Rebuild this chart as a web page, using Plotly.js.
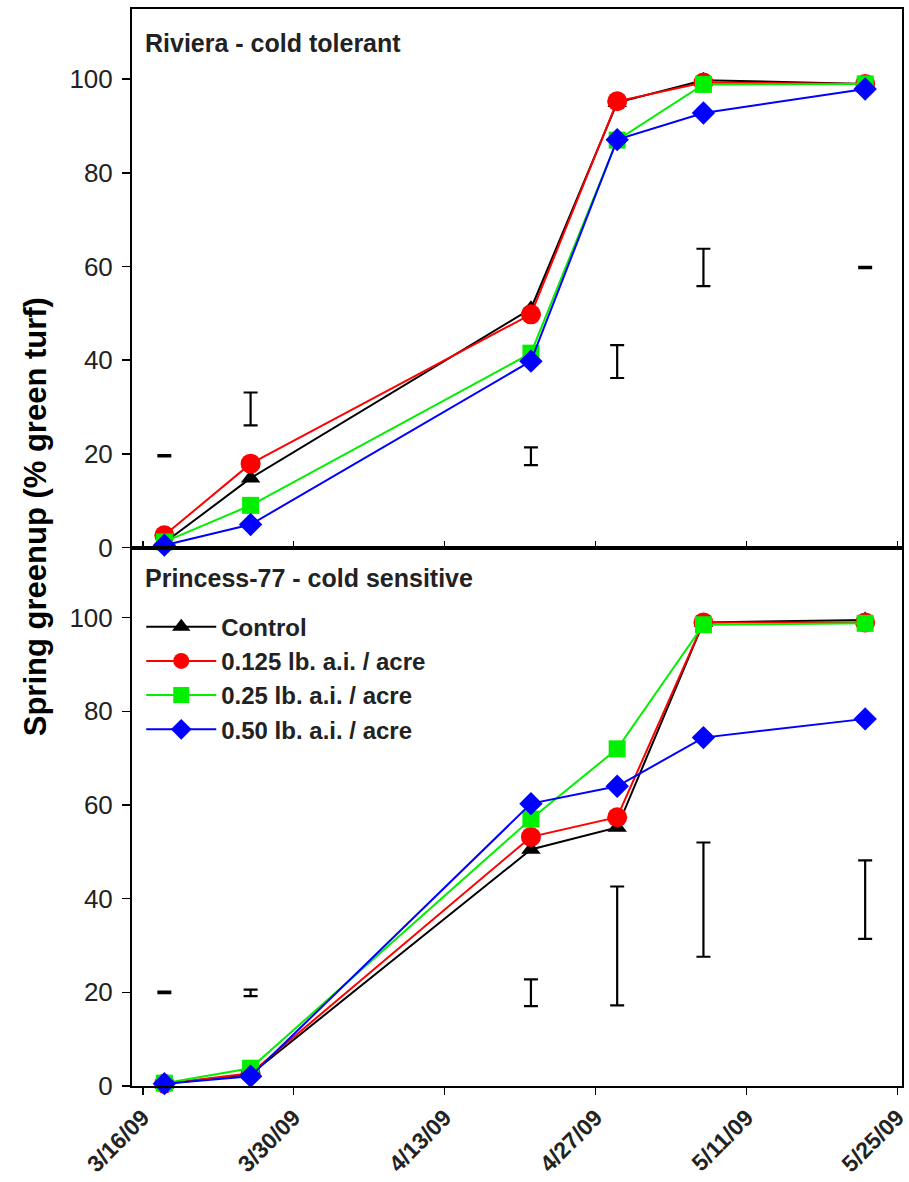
<!DOCTYPE html>
<html>
<head>
<meta charset="utf-8">
<script src="https://cdn.plot.ly/plotly-3.0.1.min.js"></script>
<style>html,body{margin:0;padding:0;background:#fff}#chart{width:909px;height:1182px}</style>
</head>
<body>
<div id="chart"></div>
<script>
// ---- data ----
const dates = ['2009-03-18','2009-03-26','2009-04-21','2009-04-29','2009-05-07','2009-05-22'];
const seriesNames = ['Control','0.125 lb. a.i. / acre','0.25 lb. a.i. / acre','0.50 lb. a.i. / acre'];
const panelTitles = ['Riviera - cold tolerant','Princess-77 - cold sensitive'];
const yTitle = 'Spring greenup (% green turf)';

// Riviera - cold tolerant
const rivControl = [1.0, 14.8, 51.0, 95.0, 99.8, 99.0];
const riv125     = [2.6, 17.9, 49.8, 95.3, 99.3, 99.0];
const riv25      = [1.2,  9.0, 41.5, 87.0, 98.9, 99.0];
const riv50      = [0.5,  4.9, 39.8, 87.1, 92.8, 97.9];
const rivLsdCenter = [19.6, 29.6, 19.5, 39.7, 59.8, 59.8];
const rivLsdHalf   = [0.15, 3.5, 1.9, 3.5, 4.0, 0.15];

// Princess-77 - cold sensitive
const priControl = [0.4, 2.5, 50.5, 55.2, 99.0, 99.5];
const pri125     = [0.5, 2.7, 53.2, 57.4, 99.0, 99.0];
const pri25      = [0.6, 3.8, 57.0, 72.0, 98.5, 98.8];
const pri50      = [0.5, 2.1, 60.3, 64.0, 74.4, 78.4];
const priLsdCenter = [20.0, 19.9, 19.9, 29.9, 39.8, 39.8];
const priLsdHalf   = [0.15, 0.7, 2.85, 12.7, 12.2, 8.4];

const tickDates = ['2009-03-16','2009-03-30','2009-04-13','2009-04-27','2009-05-11','2009-05-25'];
const tickText  = ['3/16/09','3/30/09','4/13/09','4/27/09','5/11/09','5/25/09'];

// ---- styles ----
const FONT = 'Arial, "Liberation Sans", sans-serif';
const styles = [
  {color:'#000000', symbol:'triangle-up', size:17},
  {color:'#ff0000', symbol:'circle', size:20},
  {color:'#00f000', symbol:'square', size:17},
  {color:'#0000ff', symbol:'diamond', size:18}
];

const traces = [];
function addPanel(vals, lsdC, lsdH, xa, ya, showLegend){
  vals.forEach((v, i) => {
    traces.push({
      x: dates, y: v, type:'scatter', mode:'lines+markers',
      name: seriesNames[i], xaxis: xa, yaxis: ya,
      showlegend: showLegend,
      line: {color: styles[i].color, width: 2},
      marker: {color: styles[i].color, symbol: styles[i].symbol, size: styles[i].size},
      cliponaxis: false, hoverinfo:'x+y'
    });
  });
  traces.push({
    x: dates, y: lsdC, type:'scatter', mode:'markers', xaxis: xa, yaxis: ya,
    showlegend:false, name:'LSD',
    marker:{size:1, color:'rgba(0,0,0,0)'},
    error_y:{type:'data', array: lsdH, visible:true, color:'#000', thickness:2.2, width:7}
  });
}
addPanel([rivControl, riv125, riv25, riv50], rivLsdCenter, rivLsdHalf, 'x', 'y', false);
addPanel([priControl, pri125, pri25, pri50], priLsdCenter, priLsdHalf, 'x2', 'y2', true);

const xRange = ['2009-03-15 00:00','2009-05-25 10:00'];
const yCommon = {
  range:[0,115], tickvals:[0,20,40,60,80,100], ticks:'outside', ticklen:8, tickwidth:1.5,
  tickcolor:'#000', showline:true, linecolor:'#000', linewidth:2, mirror:true,
  showgrid:false, zeroline:false, tickfont:{family:FONT, size:26, color:'#222'},
  ticklabelstandoff: 4
};
const layout = {
  width:909, height:1182,
  margin:{l:132, r:7, t:9, b:96},
  paper_bgcolor:'#fff', plot_bgcolor:'#fff',
  showlegend:true,
  legend:{x:0.012, y:0.447, xanchor:'left', yanchor:'top', bgcolor:'rgba(0,0,0,0)',
    font:{family:FONT, size:24, color:'#222', weight:'bold'}, traceorder:'normal',
    itemwidth:70},
  xaxis:{type:'date', range:xRange, anchor:'y', tickvals:tickDates, showticklabels:false,
    ticks:'inside', ticklen:7, tickwidth:1.5, tickcolor:'#000', showline:true, linecolor:'#000',
    linewidth:2, mirror:true, showgrid:false, zeroline:false},
  xaxis2:{type:'date', range:xRange, anchor:'y2', matches:'x', tickvals:tickDates, ticktext:tickText,
    tickangle:-45, ticks:'outside', ticklen:7, tickwidth:1.5, tickcolor:'#000', showline:true,
    linecolor:'#000', linewidth:2, mirror:true, showgrid:false, zeroline:false,
    ticklabeloverflow:'allow',
    tickfont:{family:FONT, size:23, color:'#222', weight:'bold'}},
  yaxis: Object.assign({domain:[0.5,1], anchor:'x'}, yCommon),
  yaxis2: Object.assign({domain:[0,0.5], anchor:'x2'}, yCommon),
  annotations:[
    {text:panelTitles[0], xref:'paper', yref:'paper', x:0.014, y:0.968, xanchor:'left', yanchor:'middle',
     showarrow:false, font:{family:FONT, size:25, color:'#222', weight:'bold'}},
    {text:panelTitles[1], xref:'paper', yref:'paper', x:0.014, y:0.4717, xanchor:'left', yanchor:'middle',
     showarrow:false, font:{family:FONT, size:25, color:'#222', weight:'bold'}},
    {text:yTitle, xref:'paper', yref:'paper', x:-0.126, y:0.529, xanchor:'center', yanchor:'middle',
     textangle:-90, showarrow:false, font:{family:FONT, size:31, color:'#000', weight:'bold'}}
  ]
};
Plotly.newPlot('chart', traces, layout, {displayModeBar:false, staticPlot:true});
</script>
</body>
</html>
